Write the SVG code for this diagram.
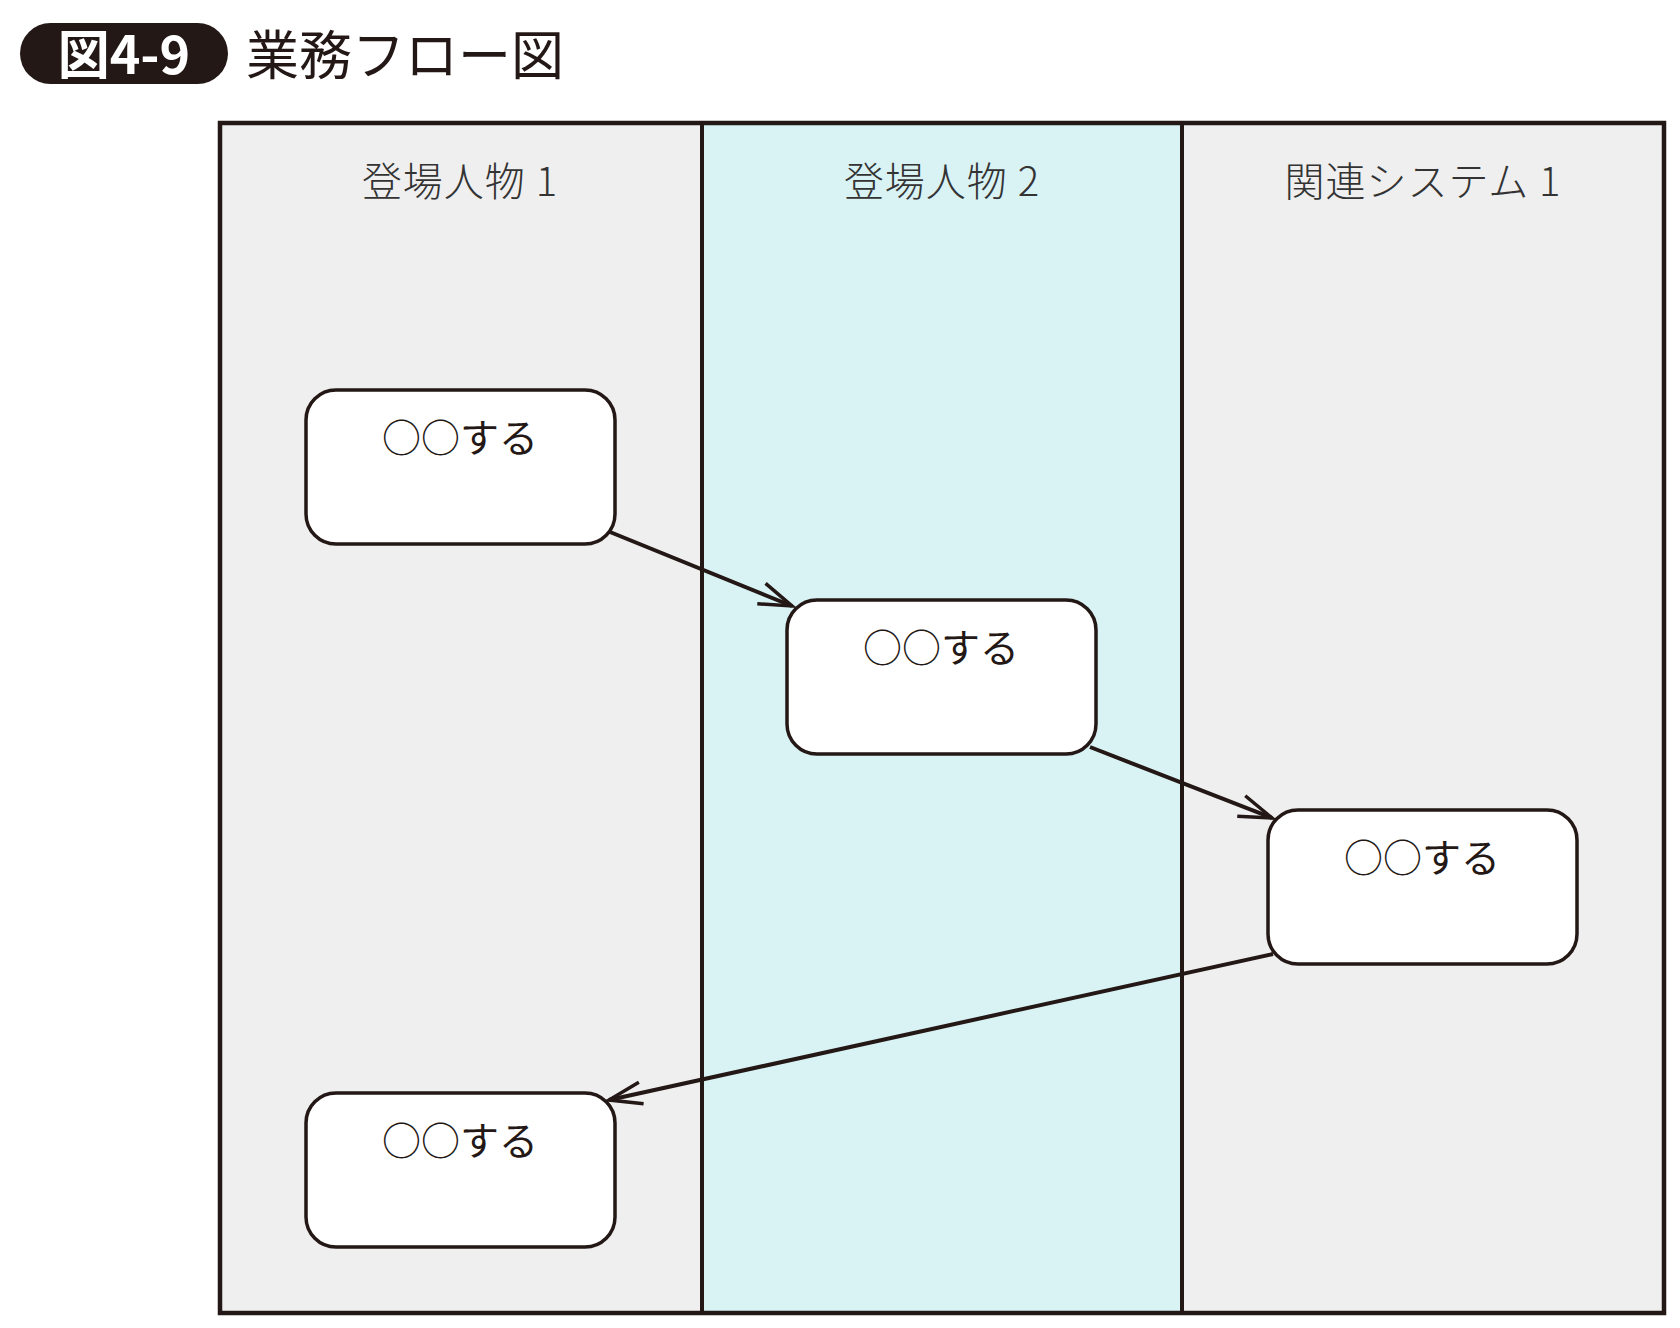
<svg xmlns="http://www.w3.org/2000/svg" width="1680" height="1328" viewBox="0 0 1680 1328">
  <defs>
    <style>
      .lane-grey { fill: #efefef; }
      .lane-cyan { fill: #d9f2f4; }
      .frame { fill: none; stroke: #231815; stroke-width: 4.5; }
      .divider { stroke: #231815; stroke-width: 4; }
      .lane-label { font-family: "Noto Sans CJK JP", "Noto Sans", sans-serif; font-weight: 300; font-size: 40px; letter-spacing: 1px; fill: #333333; text-anchor: middle; }
      .node-box { fill: #ffffff; stroke: #231815; stroke-width: 3.5; }
      .node-text { font-family: "Noto Sans CJK JP", "Noto Sans", sans-serif; font-weight: 400; font-size: 39px; fill: #231815; text-anchor: middle; }
      .conn { fill: none; stroke: #231815; stroke-width: 4; }
    </style>
    <marker id="arrow" markerUnits="userSpaceOnUse" markerWidth="44" markerHeight="32" viewBox="-40 -16 44 32" refX="0" refY="0" orient="auto">
      <path d="M -33 -11 L 0 0 L -33 11" fill="none" stroke="#231815" stroke-width="3.5" stroke-linejoin="miter"/>
    </marker>
  </defs>
  <rect width="1680" height="1328" fill="#ffffff"/>

  <g id="title">
    <rect x="20" y="23" width="208" height="61" rx="30.5" ry="30.5" fill="#231815"/>
    <text x="124" y="74" font-family="'Noto Sans CJK JP', 'Noto Sans', sans-serif" font-weight="700" font-size="52" fill="#ffffff" text-anchor="middle">図4-9</text>
    <text x="246" y="75" font-family="'Noto Sans CJK JP', 'Noto Sans', sans-serif" font-weight="400" font-size="53" fill="#231815">業務フロー図</text>
  </g>

  <g id="lanes">
    <g id="lane1">
      <rect class="lane-grey" x="220" y="123" width="482" height="1190"/>
      <text class="lane-label" x="460" y="196">登場人物 1</text>
    </g>
    <g id="lane2">
      <rect class="lane-cyan" x="702" y="123" width="480" height="1190"/>
      <text class="lane-label" x="942" y="196">登場人物 2</text>
    </g>
    <g id="lane3">
      <rect class="lane-grey" x="1182" y="123" width="482" height="1190"/>
      <text class="lane-label" x="1423" y="196">関連システム 1</text>
    </g>
    <line class="divider" x1="702" y1="123" x2="702" y2="1313"/>
    <line class="divider" x1="1182" y1="123" x2="1182" y2="1313"/>
    <rect class="frame" x="220" y="123" width="1444" height="1190"/>
  </g>

  <g id="connectors">
    <line class="conn" x1="610" y1="532" x2="792" y2="606" marker-end="url(#arrow)"/>
    <line class="conn" x1="1090" y1="747" x2="1272" y2="818" marker-end="url(#arrow)"/>
    <line class="conn" x1="1273" y1="954" x2="609" y2="1100" marker-end="url(#arrow)"/>
  </g>

  <g id="node1">
    <rect class="node-box" x="306" y="390" width="309" height="154" rx="30" ry="30"/>
    <text class="node-text" x="460" y="452">○○する</text>
  </g>
  <g id="node2">
    <rect class="node-box" x="787" y="600" width="309" height="154" rx="30" ry="30"/>
    <text class="node-text" x="941" y="662">○○する</text>
  </g>
  <g id="node3">
    <rect class="node-box" x="1268" y="810" width="309" height="154" rx="30" ry="30"/>
    <text class="node-text" x="1422" y="872">○○する</text>
  </g>
  <g id="node4">
    <rect class="node-box" x="306" y="1093" width="309" height="154" rx="30" ry="30"/>
    <text class="node-text" x="460" y="1155">○○する</text>
  </g>
</svg>
